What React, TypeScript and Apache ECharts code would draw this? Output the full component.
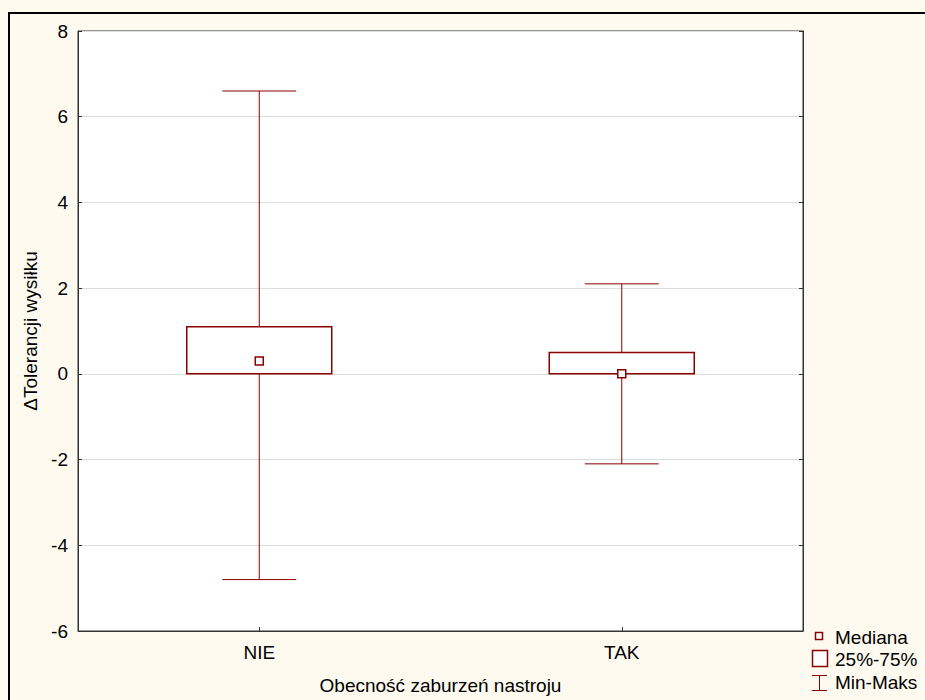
import React, { useEffect, useRef } from "react";
import * as echarts from "echarts";

const categories = ["NIE", "TAK"];
const minValues = [-4.8, -2.1];
const q1Values = [0, 0];
const medianValues = [0.3, 0];
const q3Values = [1.1, 0.5];
const maxValues = [6.6, 2.1];
const yTicks = { min: -6, max: 8, interval: 2 };

const DARK_RED = "#8B0000";
const FONT = "'Liberation Sans', Arial, sans-serif";
const FS = 19;

export default function App() {
  const ref = useRef<HTMLDivElement>(null);

  useEffect(() => {
    if (!ref.current) return;
    const chart = echarts.init(ref.current, undefined, { renderer: "svg" });

    const data = categories.map((_, i) => [
      i,
      minValues[i],
      q1Values[i],
      medianValues[i],
      q3Values[i],
      maxValues[i],
    ]);

    const option: any = {
      animation: false,
      backgroundColor: "#FFFAF0",
      textStyle: { fontFamily: FONT },
      grid: {
        left: 78,
        top: 31,
        width: 725,
        height: 600,
        show: true,
        backgroundColor: "#FFFFFF",
        borderColor: "#333",
        borderWidth: 1,
      },
      xAxis: {
        type: "category",
        data: categories,
        name: "Obecność zaburzeń nastroju",
        nameLocation: "middle",
        nameGap: 45,
        nameTextStyle: { fontSize: FS, color: "#000", fontFamily: FONT },
        axisLine: { show: true, onZero: false, lineStyle: { color: "#333", width: 1 } },
        axisTick: { show: true, inside: true, alignWithLabel: true, length: 4, lineStyle: { color: "#333" } },
        axisLabel: { fontSize: FS, color: "#000", margin: 12, fontFamily: FONT },
        splitLine: { show: false },
      },
      yAxis: [
        {
          type: "value",
          min: yTicks.min,
          max: yTicks.max,
          interval: yTicks.interval,
          name: "ΔTolerancji wysiłku",
          nameLocation: "middle",
          nameGap: 35,
          nameTextStyle: { fontSize: FS, color: "#000", fontFamily: FONT },
          axisLine: { show: true, lineStyle: { color: "#333", width: 1 } },
          axisTick: { show: true, inside: true, length: 4, lineStyle: { color: "#333" } },
          axisLabel: { fontSize: FS, color: "#000", margin: 10, fontFamily: FONT },
          splitLine: { show: true, lineStyle: { color: "#DDDDDD", width: 1 } },
        },
        {
          type: "value",
          position: "right",
          min: yTicks.min,
          max: yTicks.max,
          interval: yTicks.interval,
          axisLine: { show: true, lineStyle: { color: "#333", width: 1 } },
          axisTick: { show: true, inside: true, length: 4, lineStyle: { color: "#333" } },
          axisLabel: { show: false },
          splitLine: { show: false },
        },
      ],
      series: [
        {
          type: "custom",
          xAxisIndex: 0,
          yAxisIndex: 0,
          data,
          renderItem: (params: any, api: any) => {
            const idx = api.value(0);
            const band = api.size([1, 0])[0];
            const boxW = band * 0.4;
            const capW = band * 0.204;
            const pMin = api.coord([idx, api.value(1)]);
            const pQ1 = api.coord([idx, api.value(2)]);
            const pMed = api.coord([idx, api.value(3)]);
            const pQ3 = api.coord([idx, api.value(4)]);
            const pMax = api.coord([idx, api.value(5)]);
            const cx = pQ1[0];
            const lineStyle = { stroke: DARK_RED, lineWidth: 1, fill: null };
            return {
              type: "group",
              children: [
                { type: "line", shape: { x1: cx, y1: pMax[1], x2: cx, y2: pQ3[1] }, style: lineStyle },
                { type: "line", shape: { x1: cx, y1: pQ1[1], x2: cx, y2: pMin[1] }, style: lineStyle },
                { type: "line", shape: { x1: cx - capW / 2, y1: pMax[1], x2: cx + capW / 2, y2: pMax[1] }, style: lineStyle },
                { type: "line", shape: { x1: cx - capW / 2, y1: pMin[1], x2: cx + capW / 2, y2: pMin[1] }, style: lineStyle },
                {
                  type: "rect",
                  shape: { x: cx - boxW / 2, y: pQ3[1], width: boxW, height: pQ1[1] - pQ3[1] },
                  style: { stroke: DARK_RED, lineWidth: 1.5, fill: "#FFFFFF" },
                },
                {
                  type: "rect",
                  shape: { x: cx - 4, y: pMed[1] - 4, width: 8, height: 8 },
                  style: { stroke: DARK_RED, lineWidth: 1.5, fill: "#FFFFFF" },
                },
              ],
            };
          },
        },
      ],
      graphic: [
        {
          type: "rect",
          shape: { x: 9, y: 13, width: 1000, height: 1000 },
          style: { stroke: "#000", lineWidth: 2, fill: null },
          silent: true,
          z: 100,
        },
        {
          type: "rect",
          shape: { x: 815.5, y: 632.5, width: 7, height: 7 },
          style: { stroke: DARK_RED, lineWidth: 1.5, fill: "#FFFFFF" },
        },
        {
          type: "rect",
          shape: { x: 812.5, y: 650.5, width: 15, height: 16 },
          style: { stroke: DARK_RED, lineWidth: 1.5, fill: "#FFFFFF" },
        },
        { type: "line", shape: { x1: 812, y1: 675.5, x2: 827, y2: 675.5 }, style: { stroke: DARK_RED, lineWidth: 1 } },
        { type: "line", shape: { x1: 812, y1: 690.5, x2: 827, y2: 690.5 }, style: { stroke: DARK_RED, lineWidth: 1 } },
        { type: "line", shape: { x1: 819.5, y1: 675.5, x2: 819.5, y2: 690.5 }, style: { stroke: DARK_RED, lineWidth: 1 } },
        {
          type: "text",
          x: 835,
          y: 637,
          style: { text: "Mediana", fontSize: FS, fill: "#000", fontFamily: FONT, verticalAlign: "middle" },
        },
        {
          type: "text",
          x: 835,
          y: 659,
          style: { text: "25%-75%", fontSize: FS, fill: "#000", fontFamily: FONT, verticalAlign: "middle" },
        },
        {
          type: "text",
          x: 835,
          y: 682,
          style: { text: "Min-Maks", fontSize: FS, fill: "#000", fontFamily: FONT, verticalAlign: "middle" },
        },
      ],
    };

    chart.setOption(option);
    return () => chart.dispose();
  }, []);

  return (
    <div
      ref={ref}
      style={{ position: "fixed", left: 0, top: 0, width: 925, height: 700, background: "#FFFAF0" }}
    />
  );
}
